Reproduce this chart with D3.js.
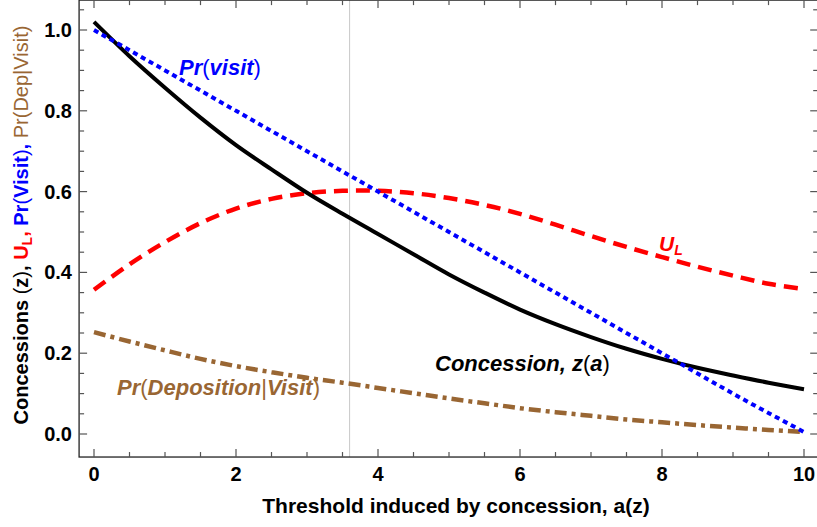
<!DOCTYPE html>
<html>
<head>
<meta charset="utf-8">
<script src="https://cdn.jsdelivr.net/npm/d3@7"></script>
<style>
    body { margin: 0; background: #fff; }
    svg { display: block; font-family: "Liberation Sans", Arial, sans-serif; }
</style>
</head>
<body>
<svg id="chart" width="817" height="527"></svg>
<script>
const thresholds = [0, 0.5, 1, 1.5, 2, 2.5, 3, 3.5, 4, 4.5, 5, 5.5, 6, 6.5, 7, 7.5, 8, 8.5, 9, 9.5, 10];
const concession = [1.02, 0.935, 0.857, 0.783, 0.715, 0.655, 0.597, 0.545, 0.495, 0.445, 0.395, 0.35, 0.308, 0.272, 0.24, 0.211, 0.186, 0.164, 0.145, 0.127, 0.111];
const prVisit = [1.0, 0.95, 0.9, 0.85, 0.8, 0.75, 0.7, 0.65, 0.6, 0.55, 0.5, 0.45, 0.4, 0.35, 0.3, 0.25, 0.2, 0.15, 0.1, 0.052, 0.005];
const utilityL = [0.357, 0.42, 0.475, 0.522, 0.558, 0.582, 0.596, 0.602, 0.602, 0.596, 0.584, 0.567, 0.545, 0.518, 0.49, 0.463, 0.438, 0.414, 0.392, 0.372, 0.359];
const prDeposition = [0.252, 0.229, 0.207, 0.186, 0.168, 0.153, 0.139, 0.127, 0.114, 0.101, 0.088, 0.076, 0.064, 0.054, 0.045, 0.036, 0.029, 0.022, 0.016, 0.01, 0.005];
const markerLine = 3.6;
const xTicks = [0, 2, 4, 6, 8, 10];
const yTicks = [0, 0.2, 0.4, 0.6, 0.8, 1.0];

const svg = d3.select("#chart");

// scales (frame is padded a bit past the data like the original plot)
const x = d3.scaleLinear().domain([0, 10]).range([94, 804]);
const y = d3.scaleLinear().domain([0, 1]).range([434, 30]);
const [fx0, fx1] = [x(-0.21), x(10.2)];
const [fy0, fy1] = [y(-0.057), y(1.074)];

// marker line
svg.append("line")
    .attr("x1", x(markerLine)).attr("x2", x(markerLine))
    .attr("y1", fy1).attr("y2", fy0)
    .attr("stroke", "#c8c8c8").attr("stroke-width", 1);

// curves
const series = [
    { values: prDeposition, color: "#996633", dash: "12,5,4,5", width: 4.5 },
    { values: utilityL, color: "#ff0000", dash: "14,8", width: 4.5 },
    { values: concession, color: "#000000", dash: null, width: 4 },
    { values: prVisit, color: "#0000ff", dash: "5,4", width: 4 },
];
const line = d3.line()
    .x((d, i) => x(thresholds[i]))
    .y(d => y(d))
    .curve(d3.curveCatmullRom);

svg.append("g").selectAll("path")
    .data(series)
    .join("path")
    .attr("d", d => line(d.values))
    .attr("fill", "none")
    .attr("stroke", d => d.color)
    .attr("stroke-width", d => d.width)
    .attr("stroke-dasharray", d => d.dash);

// frame with inward ticks on all four sides
const frame = svg.append("g");
frame.append("rect")
    .attr("x", fx0).attr("y", fy1)
    .attr("width", fx1 - fx0).attr("height", fy0 - fy1)
    .attr("fill", "none").attr("stroke", "#222").attr("stroke-width", 1.3);

const xMinor = d3.range(0, 10.01, 0.5).filter(v => !xTicks.includes(v));
const yMinor = d3.range(0, 1.051, 0.05).map(v => +v.toFixed(2)).filter(v => !yTicks.some(t => Math.abs(t - v) < 1e-6));

const tickColor = "#555";
const addXTicks = (vals, len) => {
    [fy0, fy1].forEach((yy, k) => {
        frame.selectAll(null).data(vals).join("line")
            .attr("x1", d => x(d)).attr("x2", d => x(d))
            .attr("y1", yy).attr("y2", k ? yy + len : yy - len)
            .attr("stroke", tickColor).attr("stroke-width", 1.2);
    });
};
const addYTicks = (vals, len) => {
    [fx0, fx1].forEach((xx, k) => {
        frame.selectAll(null).data(vals).join("line")
            .attr("y1", d => y(d)).attr("y2", d => y(d))
            .attr("x1", xx).attr("x2", k ? xx - len : xx + len)
            .attr("stroke", tickColor).attr("stroke-width", 1.2);
    });
};
addXTicks(xTicks, 8);
addXTicks(xMinor, 5);
addYTicks(yTicks, 8);
addYTicks(yMinor, 5);

// tick labels
frame.selectAll(null).data(xTicks).join("text")
    .attr("x", d => x(d)).attr("y", 481)
    .attr("text-anchor", "middle")
    .attr("font-size", 20).attr("font-weight", "bold")
    .text(d => d);
frame.selectAll(null).data(yTicks).join("text")
    .attr("x", 72).attr("y", d => y(d) + 7)
    .attr("text-anchor", "end")
    .attr("font-size", 20).attr("font-weight", "bold")
    .text(d => d.toFixed(1));

// axis labels
svg.append("text")
    .attr("x", 456).attr("y", 513)
    .attr("text-anchor", "middle")
    .attr("font-size", 21).attr("font-weight", "bold")
    .text("Threshold induced by concession, a(z)");

const yLabel = svg.append("text")
    .attr("transform", "translate(28,225) rotate(-90)")
    .attr("text-anchor", "middle")
    .attr("font-size", 20).attr("font-weight", "bold");
yLabel.append("tspan").attr("fill", "#000").text("Concessions ");
yLabel.append("tspan").attr("fill", "#000").attr("font-weight", "normal").text("(");
yLabel.append("tspan").attr("fill", "#000").text("z");
yLabel.append("tspan").attr("fill", "#000").attr("font-weight", "normal").text(")");
yLabel.append("tspan").attr("fill", "#000").text(", ");
yLabel.append("tspan").attr("fill", "#ff0000").text("U");
yLabel.append("tspan").attr("fill", "#ff0000").attr("font-size", 14).attr("dy", 4).text("L");
yLabel.append("tspan").attr("fill", "#ff0000").attr("dy", -4).text(", ");
yLabel.append("tspan").attr("fill", "#0000ff").text("Pr");
yLabel.append("tspan").attr("fill", "#0000ff").attr("font-weight", "normal").text("(");
yLabel.append("tspan").attr("fill", "#0000ff").text("Visit");
yLabel.append("tspan").attr("fill", "#0000ff").attr("font-weight", "normal").text(")");
yLabel.append("tspan").attr("fill", "#0000ff").text(", ");
yLabel.append("tspan").attr("fill", "#996633").attr("font-weight", "normal").text("Pr(Dep|Visit)");

// curve labels
const curveLabel = (px, py, color, size) => svg.append("text")
    .attr("x", px).attr("y", py)
    .attr("font-size", size).attr("font-weight", "bold").attr("font-style", "italic")
    .attr("fill", color);

const visitLabel = curveLabel(179, 75, "#0000ff", 22);
visitLabel.append("tspan").text("Pr");
visitLabel.append("tspan").attr("font-weight", "normal").attr("font-style", "normal").text("(");
visitLabel.append("tspan").text("visit");
visitLabel.append("tspan").attr("font-weight", "normal").attr("font-style", "normal").text(")");

const ulLabel = curveLabel(659, 251, "#ff0000", 21);
ulLabel.append("tspan").text("U");
ulLabel.append("tspan").attr("font-size", 14).attr("dy", 4).text("L");

const zLabel = curveLabel(435, 371, "#000", 22);
zLabel.append("tspan").text("Concession, z");
zLabel.append("tspan").attr("font-weight", "normal").attr("font-style", "normal").text("(");
zLabel.append("tspan").text("a");
zLabel.append("tspan").attr("font-weight", "normal").attr("font-style", "normal").text(")");

const depLabel = curveLabel(117, 395, "#996633", 22);
depLabel.append("tspan").text("Pr");
depLabel.append("tspan").attr("font-weight", "normal").attr("font-style", "normal").text("(");
depLabel.append("tspan").text("Deposition");
depLabel.append("tspan").attr("font-weight", "normal").attr("font-style", "normal").text("|");
depLabel.append("tspan").text("Visit");
depLabel.append("tspan").attr("font-weight", "normal").attr("font-style", "normal").text(")");
</script>
</body>
</html>
